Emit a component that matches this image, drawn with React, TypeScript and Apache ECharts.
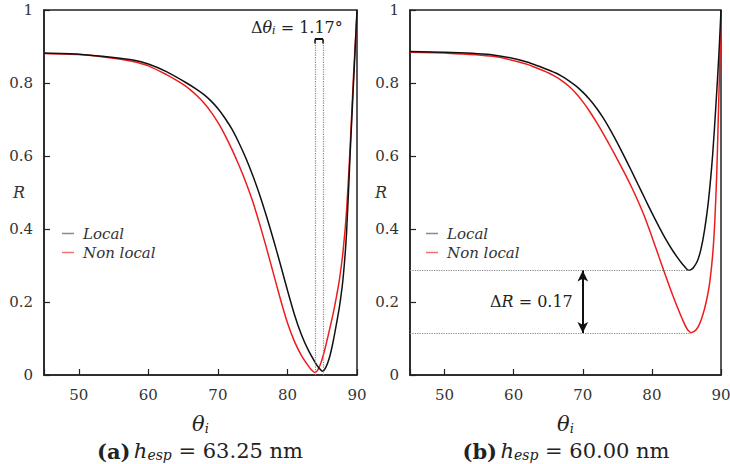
import React, { useEffect, useRef } from "react";
import * as echarts from "echarts";

// ---- Data ----
// Panel (a): h_esp = 63.25 nm
const thetaA_local = [45, 50, 55, 57.8, 60, 62.6, 65.5, 67, 68, 69, 70, 71, 72, 73, 74, 75, 76, 77, 78, 79, 80, 81, 82, 83, 84, 84.5, 85.05, 85.5, 86, 86.5, 87, 87.5, 88, 88.5, 89, 89.5, 90];
const rA_local = [0.882, 0.879, 0.87, 0.863, 0.852, 0.831, 0.8, 0.782, 0.768, 0.751, 0.73, 0.704, 0.674, 0.637, 0.595, 0.547, 0.494, 0.434, 0.37, 0.302, 0.232, 0.166, 0.111, 0.068, 0.034, 0.02, 0.01, 0.02, 0.045, 0.085, 0.135, 0.19, 0.265, 0.39, 0.6, 0.8, 1.0];
const thetaA_nonlocal = [45, 50, 55, 57.8, 60, 62.6, 64, 65, 66, 67, 68, 69, 70, 71, 72, 73, 74, 75, 76, 77, 78, 79, 80, 81, 82, 83, 83.5, 83.95, 84.4, 84.9, 85.4, 85.9, 86.5, 87, 87.5, 88, 88.5, 89, 89.5, 90];
const rA_nonlocal = [0.881, 0.878, 0.868, 0.859, 0.847, 0.823, 0.808, 0.796, 0.782, 0.765, 0.745, 0.721, 0.692, 0.658, 0.619, 0.576, 0.529, 0.476, 0.414, 0.347, 0.277, 0.207, 0.143, 0.092, 0.054, 0.025, 0.013, 0.007, 0.015, 0.038, 0.072, 0.112, 0.162, 0.21, 0.265, 0.34, 0.45, 0.62, 0.82, 0.99];

// Panel (b): h_esp = 60.00 nm
const thetaB_local = [45, 50, 57, 61.8, 66, 67, 68, 69, 70, 71, 72, 73, 74, 75, 76, 77, 78, 79, 80, 81, 82, 83, 84, 84.5, 85, 85.3, 85.6, 86, 86.6, 87.1, 87.6, 88.2, 88.8, 89.3, 89.7, 90];
const rB_local = [0.886, 0.884, 0.877, 0.858, 0.828, 0.818, 0.806, 0.792, 0.775, 0.755, 0.731, 0.703, 0.671, 0.636, 0.599, 0.561, 0.522, 0.483, 0.444, 0.407, 0.372, 0.341, 0.314, 0.302, 0.291, 0.287, 0.288, 0.294, 0.313, 0.345, 0.395, 0.48, 0.605, 0.75, 0.88, 1.0];
const thetaB_nonlocal = [45, 50, 57, 61.8, 65, 66, 67, 68, 69, 70, 71, 72, 73, 74, 75, 76, 77, 78, 79, 80, 81, 82, 83, 84, 84.5, 85, 85.3, 85.65, 86, 86.4, 86.8, 87.2, 87.6, 88, 88.4, 88.8, 89.1, 89.4, 89.7, 90];
const rB_nonlocal = [0.884, 0.882, 0.873, 0.852, 0.828, 0.818, 0.806, 0.791, 0.772, 0.749, 0.722, 0.692, 0.66, 0.626, 0.591, 0.555, 0.517, 0.476, 0.431, 0.379, 0.325, 0.271, 0.219, 0.171, 0.149, 0.129, 0.121, 0.116, 0.118, 0.124, 0.136, 0.155, 0.18, 0.213, 0.258, 0.33, 0.42, 0.56, 0.77, 0.97];

// Annotations
const dThetaLines = [83.95, 85.12]; // resonance angles, panel (a)
const dThetaTop = 0.92;
const dThetaText = "1.17°";
const minB_local = { theta: 85.4, r: 0.286 };
const minB_nonlocal = { theta: 85.65, r: 0.115 };
const dRText = "0.17";
const arrowTheta = 70;

const captions = [
  { label: "(a)", value: "63.25 nm" },
  { label: "(b)", value: "60.00 nm" },
];
const seriesNames = ["Local", "Non local"];

const FONT = "DejaVu Serif";
const BLACK = "#111111";
const RED = "#ee1c1c";

const pairs = (xs: number[], ys: number[]) => xs.map((x, i) => [x, ys[i]]);

export default function App() {
  const ref = useRef<HTMLDivElement>(null);
  useEffect(() => {
    if (!ref.current) return;
    const chart = echarts.init(ref.current, null, { renderer: "svg" });

    const grids = [
      { left: 44, top: 10, width: 313, height: 365 },
      { left: 410, top: 10, width: 311, height: 365 },
    ];

    const xAxis = grids.map((_, i) => ({
      type: "value",
      gridIndex: i,
      min: 45,
      max: 90,
      splitNumber: 5,
      axisLine: { show: true, lineStyle: { color: "#222", width: 1.5 } },
      axisTick: { show: true, inside: true, length: 6, lineStyle: { color: "#222", width: 1.2 } },
      axisLabel: {
        margin: 12,
        fontFamily: FONT,
        fontSize: 15,
        color: "#333",
        formatter: (v: number) => (v === 45 ? "" : String(v)),
      },
      splitLine: { show: false },
      name: "{t|θ}{s|i}",
      nameLocation: "middle",
      nameGap: 37,
      nameMoveOverlap: false,
      nameTextStyle: {
        rich: {
          t: { fontFamily: FONT, fontStyle: "italic", fontSize: 21, color: "#222" },
          s: { fontFamily: FONT, fontStyle: "italic", fontSize: 13, color: "#222", padding: [10, 0, 0, 0] },
        },
      },
    }));

    const yAxis = grids.map((_, i) => ({
      type: "value",
      gridIndex: i,
      min: 0,
      max: 1,
      interval: 0.2,
      axisLine: { show: true, lineStyle: { color: "#222", width: 1.5 } },
      axisTick: { show: true, inside: true, length: 6, lineStyle: { color: "#222", width: 1.2 } },
      axisLabel: { margin: 11, fontFamily: FONT, fontSize: 15, color: "#333" },
      splitLine: { show: false },
      name: "R",
      nameLocation: "middle",
      nameRotate: 0,
      nameGap: i === 0 ? 19 : 23,
      nameMoveOverlap: false,
      nameTextStyle: { fontFamily: FONT, fontStyle: "italic", fontSize: 16, color: "#333" },
    }));

    const dotted = { color: "#888", type: "dotted", width: 1.2 };
    const curve = (name: string, idx: number, xs: number[], ys: number[], color: string, z: number) => ({
      name,
      type: "line",
      xAxisIndex: idx,
      yAxisIndex: idx,
      data: pairs(xs, ys),
      showSymbol: false,
      smooth: 0.25,
      lineStyle: { color, width: 1.5 },
      itemStyle: { color },
      z,
    });

    const series: any[] = [
      {
        ...curve(seriesNames[0], 0, thetaA_local, rA_local, BLACK, 3),
        markLine: {
          silent: true,
          symbol: ["none", "none"],
          label: { show: false },
          animation: false,
          data: [
            [
              { coord: [dThetaLines[0], 0], lineStyle: dotted },
              { coord: [dThetaLines[0], dThetaTop] },
            ],
            [
              { coord: [dThetaLines[1], 0], lineStyle: dotted },
              { coord: [dThetaLines[1], dThetaTop] },
            ],
            [
              { coord: [dThetaLines[0], dThetaTop], lineStyle: { color: "#111", type: "solid", width: 2 } },
              { coord: [dThetaLines[1], dThetaTop] },
            ],
            [
              { coord: [dThetaLines[0], dThetaTop], lineStyle: { color: "#111", type: "solid", width: 1.5 } },
              { coord: [dThetaLines[0], dThetaTop - 0.012] },
            ],
            [
              { coord: [dThetaLines[1], dThetaTop], lineStyle: { color: "#111", type: "solid", width: 1.5 } },
              { coord: [dThetaLines[1], dThetaTop - 0.012] },
            ],
          ],
        },
        markPoint: {
          silent: true,
          symbol: "circle",
          symbolSize: 0,
          animation: false,
          data: [
            {
              coord: [81.35, 0.951],
              label: {
                show: true,
                position: "inside",
                formatter: "{u|Δ}{t|θ}{s|i}{u| = " + dThetaText + "}",
                rich: {
                  u: { fontFamily: FONT, fontSize: 16, color: "#222" },
                  t: { fontFamily: FONT, fontStyle: "italic", fontSize: 16, color: "#222" },
                  s: { fontFamily: FONT, fontStyle: "italic", fontSize: 11, color: "#222", padding: [6, 0, 0, 0] },
                },
              },
            },
          ],
        },
      },
      curve(seriesNames[1], 0, thetaA_nonlocal, rA_nonlocal, RED, 2),
      {
        ...curve(seriesNames[0], 1, thetaB_local, rB_local, BLACK, 3),
        markLine: {
          silent: true,
          symbol: ["none", "none"],
          label: { show: false },
          animation: false,
          data: [
            [
              { coord: [45, minB_local.r], lineStyle: dotted },
              { coord: [minB_local.theta, minB_local.r] },
            ],
            [
              { coord: [45, minB_nonlocal.r], lineStyle: dotted },
              { coord: [minB_nonlocal.theta, minB_nonlocal.r] },
            ],
            [
              {
                coord: [arrowTheta, minB_local.r],
                symbol: "arrow",
                symbolSize: [8, 11],
                lineStyle: { color: "#111", type: "solid", width: 2 },
              },
              { coord: [arrowTheta, minB_nonlocal.r], symbol: "arrow", symbolSize: [8, 11] },
            ],
          ],
        },
        markPoint: {
          silent: true,
          symbol: "circle",
          symbolSize: 0,
          animation: false,
          data: [
            {
              coord: [arrowTheta, (minB_local.r + minB_nonlocal.r) / 2],
              label: {
                show: true,
                position: "left",
                distance: 10,
                formatter: "{u|Δ}{t|R}{u| = " + dRText + "}",
                rich: {
                  u: { fontFamily: FONT, fontSize: 16, color: "#222" },
                  t: { fontFamily: FONT, fontStyle: "italic", fontSize: 16, color: "#222" },
                },
              },
            },
          ],
        },
      },
      curve(seriesNames[1], 1, thetaB_nonlocal, rB_nonlocal, RED, 2),
    ];

    const legendBase = (left: number) => ({
      left,
      top: 221,
      orient: "vertical",
      icon: "rect",
      itemWidth: 12,
      itemHeight: 1.5,
      itemGap: 4,
      selectedMode: false,
      data: [
        { name: seriesNames[0], itemStyle: { color: "#888" } },
        { name: seriesNames[1], itemStyle: { color: "#f07070" } },
      ],
      textStyle: {
        fontFamily: FONT,
        fontStyle: "italic",
        fontSize: 15,
        lineHeight: 15,
        color: "#333",
        padding: [0, 0, 0, 4],
      },
    });

    const captionText = (i: number, cx: number) => ({
      type: "text",
      x: cx,
      y: 462,
      style: {
        text: "{b|" + captions[i].label + "} {h|h}{s|esp}{n| = " + captions[i].value + "}",
        textAlign: "center",
        textVerticalAlign: "bottom",
        rich: {
          b: { fontFamily: FONT, fontWeight: "bold", fontSize: 21, fill: "#222", color: "#222" },
          h: { fontFamily: FONT, fontStyle: "italic", fontSize: 21, fill: "#222", color: "#222" },
          s: { fontFamily: FONT, fontStyle: "italic", fontSize: 14, fill: "#222", color: "#222", padding: [8, 0, 0, 0] },
          n: { fontFamily: FONT, fontSize: 21, fill: "#222", color: "#222" },
        },
      },
    });

    chart.setOption({
      animation: false,
      backgroundColor: "#fff",
      grid: grids.map((g) => ({
        ...g,
        show: true,
        borderColor: "#222",
        borderWidth: 1.5,
        backgroundColor: "transparent",
        containLabel: false,
        outerBoundsMode: "none",
      })),
      xAxis,
      yAxis,
      legend: [legendBase(57), legendBase(421)],
      series,
      graphic: [captionText(0, 200), captionText(1, 566)],
    });

    return () => chart.dispose();
  }, []);

  return <div ref={ref} style={{ position: "fixed", left: 0, top: 0, width: 730, height: 464 }} />;
}
